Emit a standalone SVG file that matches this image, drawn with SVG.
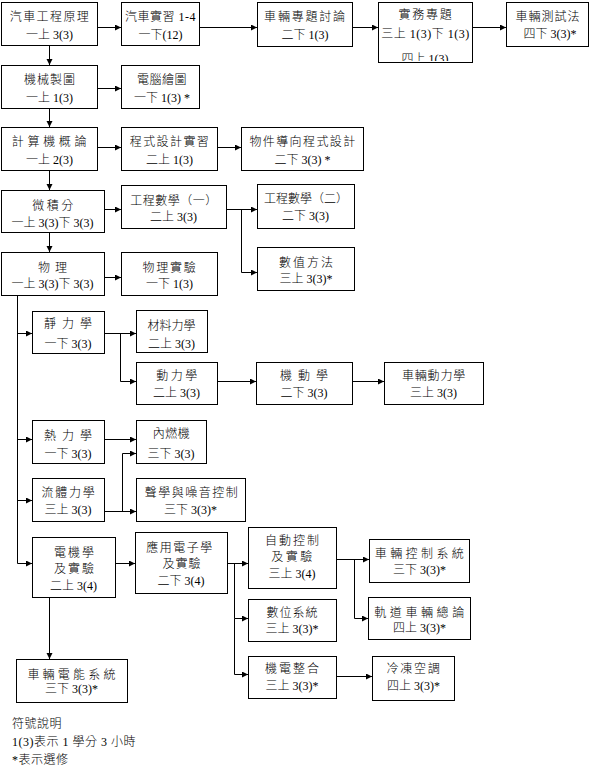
<svg xmlns="http://www.w3.org/2000/svg" width="606" height="773" viewBox="0 0 606 773">
<style>
.box{fill:#fff;stroke:#000;stroke-width:1}
.t{font-family:"Liberation Serif","Noto Sans CJK TC",serif;font-size:12px;font-weight:300;text-anchor:middle;fill:#000}
.l{font-family:"Liberation Serif","Noto Sans CJK TC",serif;font-size:12px;font-weight:300;fill:#000;letter-spacing:0.5px}
.c{fill:none;stroke:#000;stroke-width:1;marker-end:url(#ah)}
</style>
<defs>
<marker id="ah" markerUnits="userSpaceOnUse" markerWidth="7" markerHeight="7" refX="6" refY="3" orient="auto" viewBox="0 0 7 7"><path d="M0,0 L6,3 L0,6 z" fill="#000"/></marker>
<clipPath id="clip4"><rect x="378" y="2" width="94" height="59"/></clipPath>
</defs>
<rect width="606" height="773" fill="#fff"/>
<g id="connectors">
<path class="c" d="M97,27.5 H121"/>
<path class="c" d="M199,27.5 H257"/>
<path class="c" d="M352,27.5 H378"/>
<path class="c" d="M472,27.5 H506"/>
<path class="c" d="M49.5,45 V65"/>
<path class="c" d="M97,88.5 H121"/>
<path class="c" d="M49.5,108 V127"/>
<path class="c" d="M97,147.5 H121"/>
<path class="c" d="M217,147.5 H241"/>
<path class="c" d="M49.5,170 V190"/>
<path class="c" d="M104,209.5 H121"/>
<path class="c" d="M226,209.5 H257"/>
<path class="c" d="M241.5,209.5 V272.5 H257"/>
<path class="c" d="M49.5,232 V252"/>
<path class="c" d="M104,277.5 H121"/>
<path class="c" d="M17.5,295 V563.5 H32"/>
<path class="c" d="M17.5,333.5 H32"/>
<path class="c" d="M17.5,439.5 H32"/>
<path class="c" d="M17.5,500.5 H32"/>
<path class="c" d="M104,333.5 H136"/>
<path class="c" d="M120.5,333.5 V381.5 H136"/>
<path class="c" d="M217,381.5 H256"/>
<path class="c" d="M352,381.5 H384"/>
<path class="c" d="M104,439.5 H136"/>
<path class="c" d="M104,511.5 H136"/>
<path class="c" d="M122.5,511.5 V453.5 H136"/>
<path class="c" d="M115,563.5 H135"/>
<path class="c" d="M49.5,597 V659"/>
<path class="c" d="M227,563.5 H248"/>
<path class="c" d="M234.5,563.5 V618.5 H248"/>
<path class="c" d="M234.5,618.5 V674.5 H248"/>
<path class="c" d="M336,559.5 H369"/>
<path class="c" d="M354.5,559.5 V618.5 H368"/>
<path class="c" d="M336,676.5 H372"/>
</g>
<g id="n1"><rect class="box" x="1.5" y="2.5" width="96" height="43"/><text class="t" x="50" y="21" letter-spacing="1.4">汽車工程原理</text><text class="t" x="49.5" y="38.5">一上 3(3)</text></g>
<g id="n2"><rect class="box" x="121.5" y="2.5" width="78" height="43"/><text class="t" x="160.5" y="21" letter-spacing="0.5">汽車實習 1-4</text><text class="t" x="160.5" y="38.5">一下(12)</text></g>
<g id="n3"><rect class="box" x="257.5" y="2.5" width="95" height="44"/><text class="t" x="305.5" y="21" letter-spacing="1.8">車輛專題討論</text><text class="t" x="305" y="38.5">二下 1(3)</text></g>
<g id="n4"><rect class="box" x="378.5" y="2.5" width="94" height="60"/><text class="t" x="426" y="19" letter-spacing="1.7">實務專題</text><text class="t" x="425.5" y="38" letter-spacing="0.5">三上 1(3)下 1(3)</text><text class="t" x="425" y="62.5" clip-path="url(#clip4)">四上 1(3)</text></g>
<g id="n5"><rect class="box" x="506.5" y="2.5" width="82" height="44"/><text class="t" x="548" y="21" letter-spacing="1">車輛測試法</text><text class="t" x="550" y="38">四下 3(3)*</text></g>
<g id="n6"><rect class="box" x="1.5" y="65.5" width="96" height="43"/><text class="t" x="50" y="84" letter-spacing="1">機械製圖</text><text class="t" x="49.5" y="102">一上 1(3)</text></g>
<g id="n7"><rect class="box" x="121.5" y="65.5" width="78" height="43"/><text class="t" x="162" y="84" letter-spacing="0.5">電腦繪圖</text><text class="t" x="162" y="102">一下 1(3) *</text></g>
<g id="n8"><rect class="box" x="1.5" y="127.5" width="96" height="43"/><text class="t" x="51" y="146" letter-spacing="3.7">計算機概論</text><text class="t" x="49.5" y="163.5">一上 2(3)</text></g>
<g id="n9"><rect class="box" x="121.5" y="127.5" width="96" height="43"/><text class="t" x="170" y="146" letter-spacing="1.4">程式設計實習</text><text class="t" x="169.5" y="163.5">二上 1(3)</text></g>
<g id="n10"><rect class="box" x="241.5" y="127.5" width="122" height="43"/><text class="t" x="303" y="146" letter-spacing="1.4">物件導向程式設計</text><text class="t" x="302.5" y="163.5">二下 3(3) *</text></g>
<g id="n11"><rect class="box" x="1.5" y="190.5" width="103" height="42"/><text class="t" x="54" y="209.5" letter-spacing="2.5">微積分</text><text class="t" x="52.5" y="226.5">一上 3(3)下 3(3)</text></g>
<g id="n12"><rect class="box" x="121.5" y="185.5" width="105" height="43"/><text class="t" x="174" y="204.5" letter-spacing="0.5">工程數學（一）</text><text class="t" x="173.5" y="220.5">二上 3(3)</text></g>
<g id="n13"><rect class="box" x="257.5" y="184.5" width="97" height="44"/><text class="t" x="306" y="203" letter-spacing="0">工程數學（二）</text><text class="t" x="305.5" y="220">二下 3(3)</text></g>
<g id="n14"><rect class="box" x="257.5" y="247.5" width="97" height="43"/><text class="t" x="307" y="266.5" letter-spacing="2">數值方法</text><text class="t" x="306" y="283">三上 3(3)*</text></g>
<g id="n15"><rect class="box" x="1.5" y="252.5" width="103" height="43"/><text class="t" x="55" y="271.5" letter-spacing="5">物理</text><text class="t" x="52.5" y="288">一上 3(3)下 3(3)</text></g>
<g id="n16"><rect class="box" x="121.5" y="252.5" width="96" height="43"/><text class="t" x="170" y="271.5" letter-spacing="1.7">物理實驗</text><text class="t" x="169.5" y="288">一下 1(3)</text></g>
<g id="n17"><rect class="box" x="32.5" y="311.5" width="72" height="42"/><text class="t" x="71" y="327.5" letter-spacing="6">靜力學</text><text class="t" x="68" y="347.5">一下 3(3)</text></g>
<g id="n18"><rect class="box" x="136.5" y="310.5" width="71" height="42"/><text class="t" x="171.5" y="329.5">材料力學</text><text class="t" x="171.5" y="347.5">二上 3(3)</text></g>
<g id="n19"><rect class="box" x="136.5" y="362.5" width="81" height="42"/><text class="t" x="178" y="379.5" letter-spacing="2.5">動力學</text><text class="t" x="176.5" y="396.5">二上 3(3)</text></g>
<g id="n20"><rect class="box" x="256.5" y="362.5" width="96" height="42"/><text class="t" x="307" y="379.5" letter-spacing="6">機動學</text><text class="t" x="304" y="396.5">二下 3(3)</text></g>
<g id="n21"><rect class="box" x="384.5" y="362.5" width="99" height="42"/><text class="t" x="434" y="379.5" letter-spacing="0.8">車輛動力學</text><text class="t" x="433.5" y="396.5">三上 3(3)</text></g>
<g id="n22"><rect class="box" x="32.5" y="420.5" width="72" height="43"/><text class="t" x="71" y="439.5" letter-spacing="6">熱力學</text><text class="t" x="68" y="457.5">一下 3(3)</text></g>
<g id="n23"><rect class="box" x="136.5" y="420.5" width="70" height="43"/><text class="t" x="171.5" y="437.5" letter-spacing="0.5">內燃機</text><text class="t" x="171" y="457.5">三下 3(3)</text></g>
<g id="n24"><rect class="box" x="32.5" y="478.5" width="72" height="43"/><text class="t" x="69" y="496.5" letter-spacing="1.7">流體力學</text><text class="t" x="68" y="513.5">三上 3(3)</text></g>
<g id="n25"><rect class="box" x="136.5" y="478.5" width="109" height="43"/><text class="t" x="192" y="496.5" letter-spacing="1.5">聲學與噪音控制</text><text class="t" x="190.5" y="513.5">三下 3(3)*</text></g>
<g id="n26"><rect class="box" x="32.5" y="537.5" width="83" height="60"/><text class="t" x="75" y="556.5" letter-spacing="2">電機學</text><text class="t" x="75" y="572.5" letter-spacing="2">及實驗</text><text class="t" x="73.5" y="589.5">二上 3(4)</text></g>
<g id="n27"><rect class="box" x="135.5" y="532.5" width="92" height="61"/><text class="t" x="180" y="551.5" letter-spacing="1.5">應用電子學</text><text class="t" x="182" y="567.5" letter-spacing="1">及實驗</text><text class="t" x="181" y="584.5">二下 3(4)</text></g>
<g id="n28"><rect class="box" x="248.5" y="527.5" width="88" height="61"/><text class="t" x="293" y="545" letter-spacing="2">自動控制</text><text class="t" x="293" y="561" letter-spacing="2.5">及實驗</text><text class="t" x="292" y="577.5">三上 3(4)</text></g>
<g id="n29"><rect class="box" x="248.5" y="599.5" width="88" height="42"/><text class="t" x="292.5" y="616.5" letter-spacing="1">數位系統</text><text class="t" x="292" y="632.5">三上 3(3)*</text></g>
<g id="n30"><rect class="box" x="248.5" y="656.5" width="88" height="42"/><text class="t" x="293" y="672.5" letter-spacing="2">機電整合</text><text class="t" x="292" y="689.5">三上 3(3)*</text></g>
<g id="n31"><rect class="box" x="369.5" y="539.5" width="100" height="43"/><text class="t" x="421" y="557.5" letter-spacing="3.4">車輛控制系統</text><text class="t" x="419.5" y="573.5">三下 3(3)*</text></g>
<g id="n32"><rect class="box" x="368.5" y="597.5" width="102" height="42"/><text class="t" x="421" y="616.5" letter-spacing="3.6">軌道車輛總論</text><text class="t" x="419.5" y="631.5">四上 3(3)*</text></g>
<g id="n33"><rect class="box" x="372.5" y="656.5" width="82" height="44"/><text class="t" x="414" y="672.5" letter-spacing="1.7">冷凍空調</text><text class="t" x="413.5" y="689.5">四上 3(3)*</text></g>
<g id="n34"><rect class="box" x="16.5" y="659.5" width="111" height="43"/><text class="t" x="73" y="678.5" letter-spacing="3.2">車輛電能系統</text><text class="t" x="71.5" y="692.5">三下 3(3)*</text></g>
<g id="legend">
<text class="l" x="12" y="727.5">符號說明</text>
<text class="l" x="12" y="746">1(3)表示 1 學分 3 小時</text>
<text class="l" x="12" y="763.5">*表示選修</text>
</g>
</svg>
